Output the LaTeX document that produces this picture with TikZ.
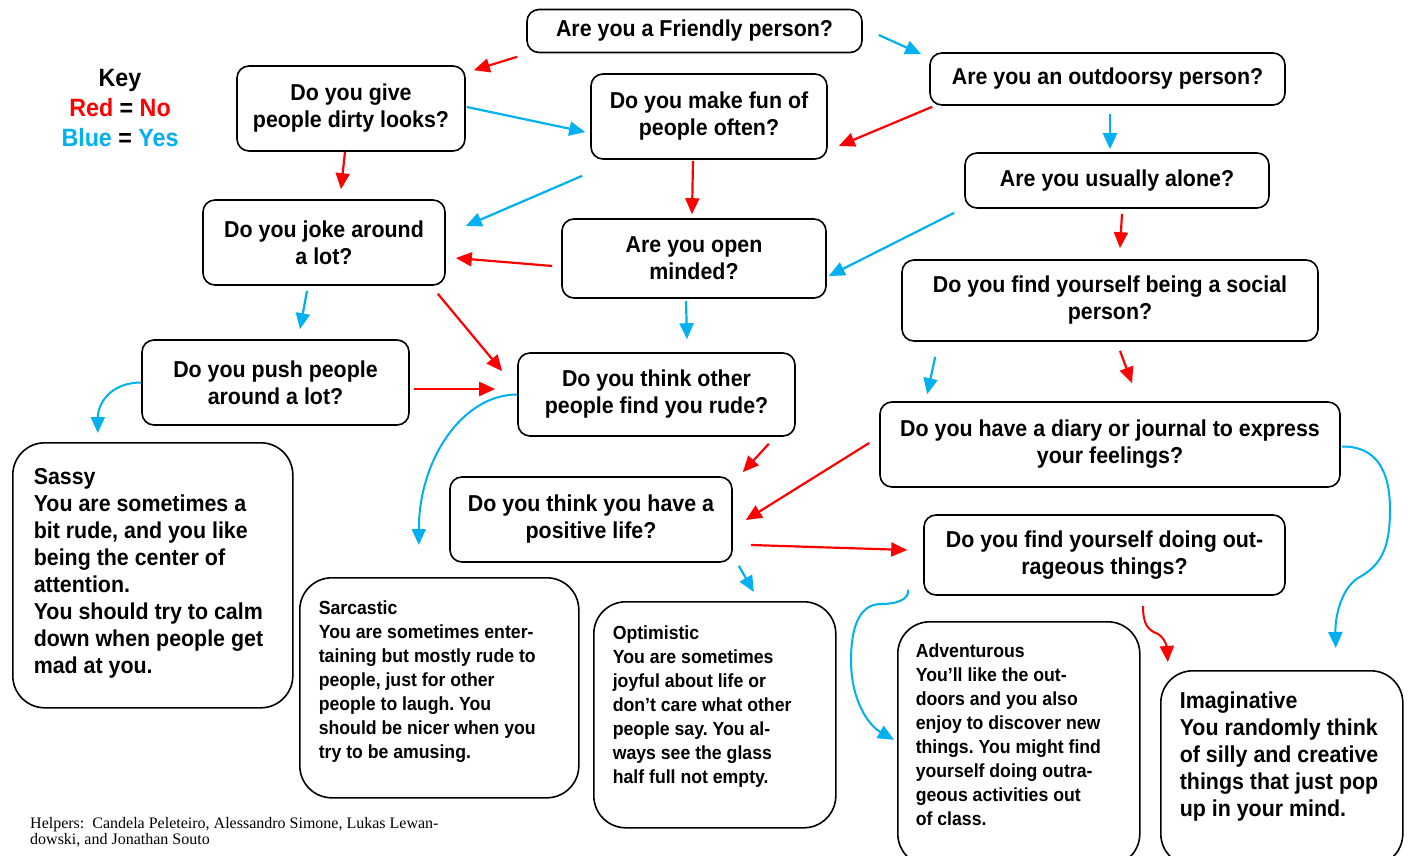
\documentclass[tikz,border=0pt]{standalone}
\usepackage{fontspec}
\setmainfont{Liberation Sans}[FakeStretch=0.93]
\newfontfamily\helperfamily{Liberation Serif}
\usepackage{xcolor}
\usetikzlibrary{calc,positioning,arrows.meta}
\definecolor{nored}{HTML}{FF0000}
\definecolor{yesblue}{HTML}{00B0F0}
\frenchspacing
\newcommand{\qfont}{\fontsize{23}{27}\selectfont\bfseries}
\newcommand{\bigres}{\fontsize{23}{27}\selectfont\bfseries}
\newcommand{\smallres}{\fontsize{19}{24}\selectfont\bfseries}
\newcommand{\outcome}[3]{\parbox[c][#2][t]{#1}{\begin{tabular}{@{}l@{}}#3\end{tabular}}}
\tikzstyle{question} = [rectangle, rounded corners=12, draw=black, line width=1.6, align=center, font=\qfont, inner sep=2]
\tikzstyle{result} = [rectangle, rounded corners=32, draw=black, line width=1.6, anchor=north west]
\tikzstyle{noarrow} = [nored, line width=2.2, -{Triangle[length=16pt,width=14pt]}]
\tikzstyle{yesarrow} = [yesblue, line width=2.2, -{Triangle[length=16pt,width=14pt]}]

\begin{document}
\begin{tikzpicture}[x=1pt,y=-1pt]
\clip (0,0) rectangle (1408,856);
% key and helpers
\node[font=\fontsize{25}{30}\selectfont\bfseries, align=center] (key) at (120,108)
  {Key\\\textcolor{nored}{Red} = \textcolor{nored}{No}\\\textcolor{yesblue}{Blue} = \textcolor{yesblue}{Yes}};
\node[anchor=north west, align=left, inner sep=0, font=\helperfamily\fontsize{16}{16}\selectfont] (helpers) at (30,817)
  {Helpers:~~Candela Peleteiro, Alessandro Simone, Lukas Lewan-\\dowski, and Jonathan Souto};

% questions
\node[question, minimum width=335, minimum height=43] (friendly) at (694.5,31) {Are you a Friendly person?};
\node[question, minimum width=355, minimum height=52] (outdoorsy) at (1107.5,79) {Are you an outdoorsy person?};
\node[question, minimum width=228, minimum height=85] (dirty) at (351,108.5) {Do you give\\people dirty looks?};
\node[question, minimum width=236, minimum height=85] (makefun) at (709,116.5) {Do you make fun of\\people often?};
\node[question, minimum width=304, minimum height=55] (alone) at (1117,180.5) {Are you usually alone?};
\node[question, minimum width=242, minimum height=85] (joke) at (324,242.5) {Do you joke around\\a lot?};
\node[question, minimum width=264, minimum height=79] (open) at (694,258.5) {Are you open\\minded?};
\node[question, minimum width=416, minimum height=81] (social) at (1110,300.5) {Do you find yourself being a social\\person?};
\node[question, minimum width=267, minimum height=85] (push) at (275.5,382.5) {Do you push people\\around a lot?};
\node[question, minimum width=277, minimum height=83] (rude) at (656.5,394.5) {Do you think other\\people find you rude?};
\node[question, minimum width=460, minimum height=85] (diary) at (1110,444.5) {Do you have a diary or journal to express\\your feelings?};
\node[question, minimum width=282, minimum height=85] (positive) at (591,519.5) {Do you think you have a\\positive life?};
\node[question, minimum width=361, minimum height=80] (outrageous) at (1104.5,555) {Do you find yourself doing out-\\rageous things?};

% results
\node[result, font=\bigres, inner xsep=21, inner ysep=23] (sassy) at (12,442)
  {\outcome{238pt}{219pt}{Sassy\\You are sometimes a\\bit rude, and you like\\being the center of\\attention.\\You should try to calm\\down when people get\\mad at you.}};
\node[result, font=\smallres, inner xsep=19, inner ysep=20] (sarcastic) at (299,577)
  {\outcome{241pt}{180pt}{Sarcastic\\You are sometimes enter-\\taining but mostly rude to\\people, just for other\\people to laugh. You\\should be nicer when you\\try to be amusing.}};
\node[result, font=\smallres, inner xsep=19, inner ysep=21] (optimistic) at (593,601)
  {\outcome{204pt}{184pt}{Optimistic\\You are sometimes\\joyful about life or\\don’t care what other\\people say. You al-\\ways see the glass\\half full not empty.}};
\node[result, font=\smallres, inner xsep=18, inner ysep=19] (adventurous) at (897,621)
  {\outcome{206pt}{206pt}{Adventurous\\You’ll like the out-\\doors and you also\\enjoy to discover new\\things. You might find\\yourself doing outra-\\geous activities out\\of class.}};
\node[result, font=\bigres, inner xsep=19, inner ysep=19] (imaginative) at (1160,670)
  {\outcome{204pt}{157pt}{Imaginative\\You randomly think\\of silly and creative\\things that just pop\\up in your mind.}};

% straight arrows
\draw[noarrow] ($(friendly.south west)+(-9,3.5)$) -- ($(dirty.north east)+(8,5)$);
\draw[yesarrow] ($(friendly.east)+(16,4)$) -- ($(outdoorsy.north west)+(-8,2)$);
\draw[yesarrow] ($(dirty.east)+(1,-1.5)$) -- ($(makefun.west)+(-5,15.5)$);
\draw[noarrow] ($(dirty.south)+(-6,0)$) -- ($(joke.north)+(17,-10)$);
\draw[yesarrow] ($(makefun.south west)+(-8,16)$) -- ($(joke.east)+(20,-16.5)$);
\draw[noarrow] ($(makefun.south)+(-16,1)$) -- ($(open.north)+(-2,-4)$);
\draw[noarrow] ($(outdoorsy.south west)+(3,1)$) -- ($(makefun.east)+(11,29.5)$);
\draw[yesarrow] ($(outdoorsy.south)+(2.5,8)$) -- ($(alone.north)+(-7,-3)$);
\draw[yesarrow] ($(alone.south west)+(-10,4)$) -- ($(open.east)+(2,17.5)$);
\draw[noarrow] ($(alone.south)+(5,5)$) -- ($(social.north)+(10,-11)$);
\draw[noarrow] ($(open.west)+(-9,7.5)$) -- ($(joke.east)+(10,15.5)$);
\draw[yesarrow] ($(joke.south)+(-17,5)$) -- ($(push.north)+(24.5,-10)$);
\draw[noarrow] ($(joke.south east)+(-8,8)$) -- ($(rude.north west)+(-15,19)$);
\draw[yesarrow] ($(open.south)+(-8,2)$) -- ($(rude.north)+(30.5,-13)$);
\draw[noarrow] ($(push.east)+(4,6.5)$) -- ($(rude.west)+(-22,-5.5)$);
\draw[noarrow] ($(rude.south east)+(-27,7)$) -- ($(positive.north east)+(10,-4)$);
\draw[noarrow] ($(diary.west)+(-10,-1.5)$) -- ($(positive.east)+(13,0.5)$);
\draw[yesarrow] ($(social.south west)+(34,15)$) -- ($(diary.north west)+(48,-7)$);
\draw[noarrow] ($(social.south)+(10,9)$) -- ($(diary.north)+(22,-18)$);
\draw[noarrow] ($(positive.east)+(18,25.5)$) -- ($(outrageous.west)+(-16,-5)$);
\draw[yesarrow] ($(positive.south east)+(6,3)$) -- ($(optimistic.north)+(39,-9)$);

% curved arrows
\draw[yesarrow, line width=2] (push.west) .. controls +(-30,0) and +(0,-30) .. ($(sassy.north)+(-55,-9)$);
\draw[yesarrow, line width=2] (rude.west) .. controls +(-55,0) and +(0,-85) .. ($(sarcastic.north)+(-20.5,-32)$);
\draw[yesarrow, line width=2] ($(outrageous.south west)+(-15,-6)$) .. controls (909,600) and (896,604) .. (881,604)
  .. controls (858,604) and (851,630) .. (851,660)
  .. controls (851,700) and (868,725) .. ($(adventurous.west)+(-3,-4)$);
\draw[noarrow, line width=2] ($(outrageous.south)+(38.5,10)$) .. controls (1143,625) and (1148,630) .. (1158,634)
  .. controls (1165,638) and (1167,648) .. ($(imaginative.north)+(-114,-8)$);
\draw[yesarrow, line width=2] ($(diary.east)+(1,2)$) .. controls (1376,446) and (1390,470) .. (1390,510)
  .. controls (1390,550) and (1380,566) .. (1358,578)
  .. controls (1342,588) and (1335,615) .. ($(imaginative.north)+(54,-22)$);
\end{tikzpicture}
\end{document}
